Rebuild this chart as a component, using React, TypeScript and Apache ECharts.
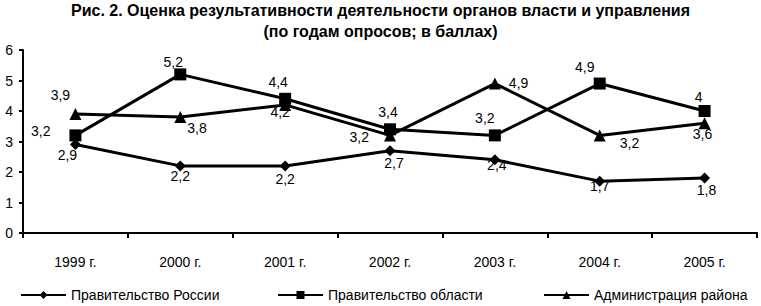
import React, { useEffect, useRef } from "react";
import * as echarts from "echarts";

const years = ["1999 г.", "2000 г.", "2001 г.", "2002 г.", "2003 г.", "2004 г.", "2005 г."];
const russia = [2.9, 2.2, 2.2, 2.7, 2.4, 1.7, 1.8];
const oblast = [3.2, 5.2, 4.4, 3.4, 3.2, 4.9, 4.0];
const rayon = [3.9, 3.8, 4.2, 3.2, 4.9, 3.2, 3.6];
const yTicks = ["0", "1", "2", "3", "4", "5", "6"];
const seriesNames = ["Правительство России", "Правительство области", "Администрация района"];

// label placements for each point (styling only)
const russiaPos: any[] = [
  { position: "bottom", offset: [-8, -6] },
  { position: "bottom", offset: [0, -6] },
  { position: "bottom", offset: [0, -3] },
  { position: "bottom", offset: [4, -4] },
  { position: "bottom", offset: [2, -11] },
  { position: "bottom", offset: [0, -12] },
  { position: "bottom", offset: [2, -5] },
];
const oblastPos: any[] = [
  { position: "left", offset: [-15, -4] },
  { position: "top", offset: [-7, 5] },
  { position: "top", offset: [-7, 0] },
  { position: "top", offset: [-2, 0] },
  { position: "top", offset: [-10, 0] },
  { position: "top", offset: [-15, 0] },
  { position: "top", offset: [-6, 3] },
];
const rayonPos: any[] = [
  { position: "top", offset: [-15, -2] },
  { position: "right", offset: [-3, 11] },
  { position: "bottom", offset: [-5, -10] },
  { position: "left", offset: [-11, 2] },
  { position: "right", offset: [4, -1] },
  { position: "right", offset: [10, 8] },
  { position: "bottom", offset: [-2, -6] },
];

const FONT = "'Liberation Sans', Arial, sans-serif";
const fmt = (p: any) => String(p.value).replace(".", ",");

function build(vals: number[], pos: any[]) {
  return vals.map((v, i) => ({ value: v, label: { ...pos[i] } }));
}

export default function App() {
  const ref = useRef<HTMLDivElement>(null);
  useEffect(() => {
    const chart = echarts.init(ref.current!, undefined, { renderer: "svg" });
    const labelBase = {
      show: true,
      formatter: fmt,
      color: "#000",
      fontFamily: FONT,
      fontSize: 14,
      distance: 4,
    };
    const lineBase = {
      type: "line",
      lineStyle: { color: "#000", width: 3 },
      itemStyle: { color: "#000" },
      label: labelBase,
      z: 2,
    };
    const legendBase = {
      top: 288,
      itemWidth: 45,
      itemHeight: 10,
      textStyle: { fontFamily: FONT, fontSize: 14, color: "#000" },
      itemGap: 3,
      padding: 0,
    };
    chart.setOption({
      animation: false,
      backgroundColor: "#fff",
      title: {
        text: "Рис. 2. Оценка результативности деятельности органов власти и управления\n(по годам опросов; в баллах)",
        left: "center",
        top: 0,
        padding: [0, 5],
        textStyle: {
          fontFamily: FONT,
          fontSize: 16,
          fontWeight: "bold",
          color: "#000",
          lineHeight: 21,
        },
      },
      grid: { left: 23, right: 4, top: 50, bottom: 73, outerBoundsMode: "none" },
      legend: [
        { ...legendBase, left: 20, data: [seriesNames[0]] },
        { ...legendBase, left: 277, data: [seriesNames[1]] },
        { ...legendBase, left: 543, data: [seriesNames[2]] },
      ],
      xAxis: {
        type: "category",
        data: years,
        boundaryGap: true,
        axisLine: { lineStyle: { color: "#000", width: 2 } },
        axisTick: { show: true, length: 5, lineStyle: { color: "#000", width: 2 } },
        axisLabel: {
          color: "#000",
          fontFamily: FONT,
          fontSize: 14,
          margin: 22,
        },
        splitLine: { show: false },
      },
      yAxis: {
        type: "value",
        min: 0,
        max: 6,
        interval: 1,
        axisLine: { show: true, lineStyle: { color: "#000", width: 2 } },
        axisTick: { show: true, length: 4, lineStyle: { color: "#000", width: 2 } },
        axisLabel: {
          color: "#000",
          fontFamily: FONT,
          fontSize: 14,
          margin: 10,
          formatter: (v: number) => yTicks[v] ?? String(v),
        },
        splitLine: { show: false },
      },
      series: [
        {
          ...lineBase,
          name: seriesNames[0],
          symbol: "diamond",
          symbolSize: 11,
          data: build(russia, russiaPos),
        },
        {
          ...lineBase,
          name: seriesNames[1],
          symbol: "rect",
          symbolSize: 12,
          data: build(oblast, oblastPos),
        },
        {
          ...lineBase,
          name: seriesNames[2],
          symbol: "triangle",
          symbolSize: 12,
          data: build(rayon, rayonPos),
        },
      ],
    });
    return () => chart.dispose();
  }, []);
  return (
    <div
      ref={ref}
      style={{ position: "absolute", left: 0, top: 0, width: 761, height: 306 }}
    />
  );
}
